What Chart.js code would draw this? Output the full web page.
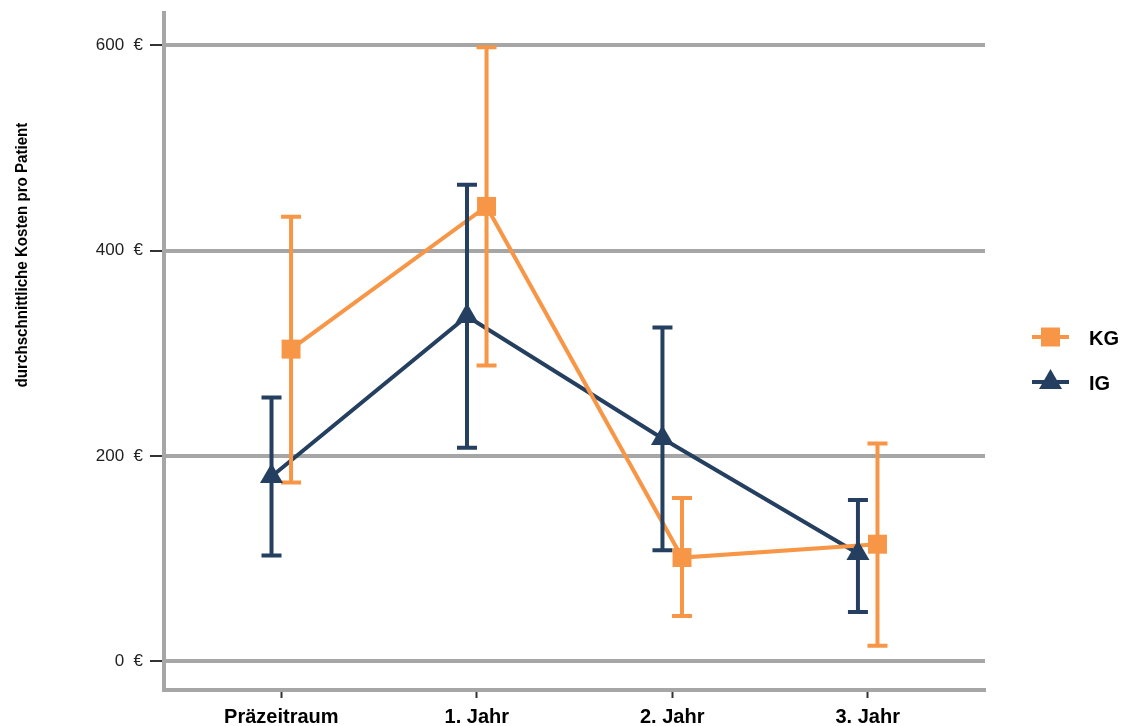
<!DOCTYPE html>
<html>
<head>
<meta charset="utf-8">
<script src="https://cdn.jsdelivr.net/npm/chart.js@4/dist/chart.umd.min.js"></script>
<style>
  html, body { margin: 0; padding: 0; background: #fff; }
  #wrap { width: 1125px; height: 726px; }
</style>
</head>
<body>
<div id="wrap"><canvas id="costChart" width="1125" height="726"></canvas></div>
<script>
// Zeitraeume (Kategorien der x-Achse)
const periods = ['Präzeitraum', '1. Jahr', '2. Jahr', '3. Jahr'];

// Kontrollgruppe (KG): Mittelwert und Fehlerbalken
const kgMean = [304, 443, 101, 114];
const kgLow  = [174, 288, 44, 15];
const kgHigh = [433, 598, 159, 212];

// Interventionsgruppe (IG): Mittelwert und Fehlerbalken
const igMean = [180, 336, 217, 105];
const igLow  = [103, 208, 108, 48];
const igHigh = [257, 464, 325, 157];

// Achsenbeschriftung y
const yTicks = [0, 200, 400, 600];

const ORANGE = '#F79646';
const NAVY = '#243F60';
const GRID = '#A6A6A6';
const DODGE = 0.05;   // seitlicher Versatz der beiden Gruppen

const kgPoints = kgMean.map((v, i) => ({ x: i + DODGE, y: v }));
const igPoints = igMean.map((v, i) => ({ x: i - DODGE, y: v }));

// Fehlerbalken nach den Linien, aber vor den Markern zeichnen
const errorBars = {
  id: 'errorBars',
  afterDatasetDraw(chart, args) {
    if (args.index !== 2) return;
    const ctx = chart.ctx;
    const xs = chart.scales.x, ys = chart.scales.y;
    const groups = [
      { low: igLow, high: igHigh, off: -DODGE, color: NAVY },
      { low: kgLow, high: kgHigh, off: DODGE, color: ORANGE }
    ];
    ctx.save();
    ctx.lineWidth = 4;
    ctx.lineCap = 'butt';
    groups.forEach(g => {
      ctx.strokeStyle = g.color;
      g.low.forEach((lo, i) => {
        const x = xs.getPixelForValue(i + g.off);
        const y1 = ys.getPixelForValue(lo);
        const y2 = ys.getPixelForValue(g.high[i]);
        ctx.beginPath();
        ctx.moveTo(x, y1); ctx.lineTo(x, y2);
        ctx.moveTo(x - 10, y1); ctx.lineTo(x + 10, y1);
        ctx.moveTo(x - 10, y2); ctx.lineTo(x + 10, y2);
        ctx.stroke();
      });
    });
    ctx.restore();
  }
};

// y-Achsentitel und Legende
const extras = {
  id: 'extras',
  afterDraw(chart) {
    const ctx = chart.ctx;
    ctx.save();
    ctx.translate(22, 255);
    ctx.rotate(-Math.PI / 2);
    ctx.scale(0.89, 1);
    ctx.font = 'bold 17px "Liberation Sans", Arial, sans-serif';
    ctx.fillStyle = '#000';
    ctx.textAlign = 'center';
    ctx.textBaseline = 'middle';
    ctx.fillText('durchschnittliche Kosten pro Patient', 0, 0);
    ctx.restore();

    const items = [
      { label: 'KG', color: ORANGE, shape: 'rect', y: 337 },
      { label: 'IG', color: NAVY, shape: 'triangle', y: 382 }
    ];
    ctx.save();
    items.forEach(it => {
      ctx.strokeStyle = it.color;
      ctx.fillStyle = it.color;
      ctx.lineWidth = 4;
      ctx.beginPath();
      ctx.moveTo(1032, it.y); ctx.lineTo(1069, it.y);
      ctx.stroke();
      ctx.beginPath();
      if (it.shape === 'rect') {
        ctx.rect(1041, it.y - 9.5, 19, 19);
      } else {
        ctx.moveTo(1050.5, it.y - 13);
        ctx.lineTo(1062, it.y + 7);
        ctx.lineTo(1039, it.y + 7);
        ctx.closePath();
      }
      ctx.fill();
      ctx.fillStyle = '#000';
      ctx.font = 'bold 20px "Liberation Sans", Arial, sans-serif';
      ctx.textAlign = 'left';
      ctx.textBaseline = 'middle';
      ctx.fillText(it.label, 1089, it.y + 2);
    });
    ctx.restore();
  }
};

new Chart(document.getElementById('costChart'), {
  type: 'line',
  data: {
    datasets: [
      { label: 'KG', data: kgPoints, showLine: false, pointStyle: 'rect', pointRadius: 13.4,
        backgroundColor: ORANGE, borderColor: ORANGE, borderWidth: 0, order: 0, clip: false },
      { label: 'IG', data: igPoints, showLine: false, pointStyle: 'triangle', pointRadius: 13.3,
        backgroundColor: NAVY, borderColor: NAVY, borderWidth: 0, order: 0, clip: false },
      { label: 'KG Linie', data: kgPoints, borderColor: ORANGE, borderWidth: 4, pointRadius: 0,
        tension: 0, fill: false, order: 1, clip: false },
      { label: 'IG Linie', data: igPoints, borderColor: NAVY, borderWidth: 4, pointRadius: 0,
        tension: 0, fill: false, order: 1, clip: false }
    ]
  },
  options: {
    responsive: false,
    devicePixelRatio: 1,
    animation: false,
    layout: { padding: { top: 8, right: 140, left: 0, bottom: 0 } },
    plugins: { legend: { display: false }, tooltip: { enabled: false } },
    scales: {
      x: {
        type: 'linear',
        min: -0.6,
        max: 3.6,
        afterBuildTicks: s => { s.ticks = periods.map((p, i) => ({ value: i })); },
        afterFit: s => { s.height = 36; s.paddingLeft = 0; s.paddingRight = 0; },
        ticks: {
          callback: v => periods[v],
          font: { family: '"Liberation Sans", Arial, sans-serif', size: 20, weight: 'bold' },
          color: '#000',
          padding: 7,
          maxRotation: 0
        },
        grid: { drawOnChartArea: false, drawTicks: true, tickLength: 8, tickColor: '#333', tickWidth: 2 },
        border: { color: GRID, width: 4 }
      },
      y: {
        min: -28,
        max: 631,
        afterBuildTicks: s => { s.ticks = yTicks.map(v => ({ value: v })); },
        afterFit: s => { s.width = 164; s.paddingTop = 0; s.paddingBottom = 0; },
        ticks: {
          callback: v => v + '  €',
          font: { family: '"Liberation Sans", Arial, sans-serif', size: 17 },
          color: '#222',
          padding: 7
        },
        grid: { color: GRID, lineWidth: 4, tickLength: 14, tickColor: '#333', tickWidth: 2 },
        border: { color: GRID, width: 4 }
      }
    }
  },
  plugins: [errorBars, extras]
});
</script>
</body>
</html>
